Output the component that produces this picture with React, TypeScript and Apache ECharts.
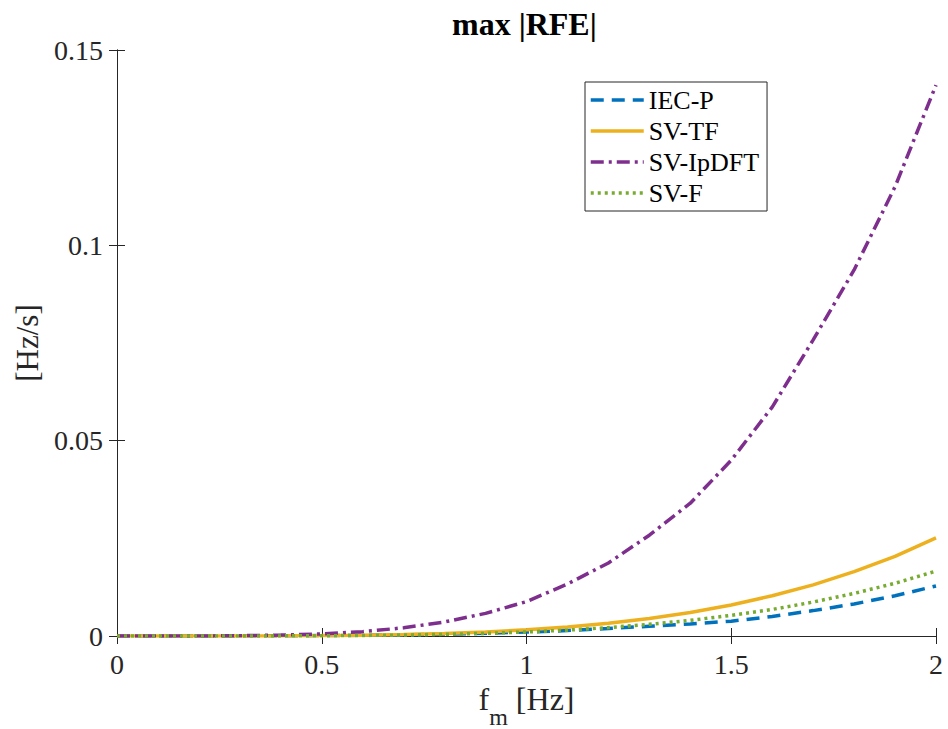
import React, { useEffect, useRef } from "react";
import * as echarts from "echarts";

const fm = [0, 0.1, 0.2, 0.3, 0.4, 0.5, 0.6, 0.7, 0.8, 0.9, 1.0, 1.1, 1.2, 1.3, 1.4, 1.5, 1.6, 1.7, 1.8, 1.9, 2.0];
const iecP = [0, 0, 0.00001, 0.00003, 0.00006, 0.0001, 0.00018, 0.0003, 0.00048, 0.00072, 0.001, 0.0014, 0.0019, 0.0025, 0.0031, 0.0038, 0.005, 0.0065, 0.0082, 0.0103, 0.0128];
const svTF = [0, 0, 0.0000025, 0.000013, 0.00004, 0.0001, 0.0002, 0.00038, 0.00064, 0.00103, 0.00157, 0.0023, 0.00326, 0.00448, 0.00603, 0.00795, 0.0103, 0.0131, 0.0165, 0.0204, 0.0251];
const svIpDFT = [0, 0.000001, 0.00001, 0.00007, 0.00023, 0.00055, 0.0011, 0.0021, 0.0036, 0.0058, 0.0088, 0.0133, 0.0187, 0.0258, 0.034, 0.045, 0.0586, 0.0758, 0.0937, 0.115, 0.141];
const svF = [0, 0, 0.000003, 0.00001, 0.00003, 0.00006, 0.00014, 0.00025, 0.00043, 0.00068, 0.00104, 0.0015, 0.00215, 0.003, 0.004, 0.0053, 0.0068, 0.0087, 0.0109, 0.0135, 0.0166];

const seriesNames = ["IEC-P", "SV-TF", "SV-IpDFT", "SV-F"];
const seriesColors = ["#0072BD", "#EDB120", "#7E2F8E", "#77AC30"];
const xTicks = { min: 0, max: 2, interval: 0.5 };
const yTicks = { min: 0, max: 0.15, interval: 0.05 };

const FONT = "'Liberation Serif', 'Times New Roman', serif";
const AX = "#262626";

export default function App() {
  const ref = useRef<HTMLDivElement>(null);
  useEffect(() => {
    if (!ref.current) return;
    const chart = echarts.init(ref.current, undefined, { renderer: "svg" });
    const values = [iecP, svTF, svIpDFT, svF];
    const dashes: any[] = [[13, 8], "solid", [13, 5, 3, 5], [3, 4]];
    const axisCommon = {
      type: "value" as const,
      axisLine: { show: true, lineStyle: { color: AX, width: 1 } },
      axisTick: { show: true, inside: true, length: 8, lineStyle: { color: AX } },
      splitLine: { show: false },
    };
    chart.setOption({
      animation: false,
      backgroundColor: "#ffffff",
      grid: { left: 117, right: 12, top: 50, bottom: 93, containLabel: false, outerBoundsMode: "none" },
      graphic: [
        {
          type: "text",
          left: 452,
          top: 8,
          style: { text: "max |RFE|", font: `bold 32px ${FONT}`, fill: "#000" },
        },
      ],
      legend: {
        orient: "vertical",
        left: 585,
        top: 82,
        itemWidth: 53,
        itemHeight: 14,
        itemGap: 5,
        padding: [5, 8, 5, 4],
        borderColor: AX,
        borderWidth: 1,
        backgroundColor: "#fff",
        itemStyle: { opacity: 0 },
        lineStyle: { width: 3.5 },
        textStyle: { fontFamily: FONT, fontSize: 26, color: "#000", padding: [0, 0, 0, 0] },
        data: seriesNames,
      },
      xAxis: [
        {
          ...axisCommon,
          ...xTicks,
          position: "bottom",
          axisLabel: { show: true, margin: 14, fontFamily: FONT, fontSize: 28, color: AX },
          name: "{a|f}{b|m}{a| [Hz]}",
          nameLocation: "middle",
          nameGap: 16,
          nameTextStyle: {
            rich: {
              a: { fontFamily: FONT, fontSize: 32, color: AX },
              b: { fontFamily: FONT, fontSize: 24, color: AX, verticalAlign: "bottom", padding: [0, 0, -14, 0] },
            },
          },
        },
        {
          ...axisCommon,
          ...xTicks,
          position: "top",
          axisLabel: { show: false },
        },
      ],
      yAxis: [
        {
          ...axisCommon,
          ...yTicks,
          position: "left",
          axisLabel: { show: true, margin: 14, fontFamily: FONT, fontSize: 28, color: AX },
          name: "[Hz/s]",
          nameLocation: "middle",
          nameGap: 72,
          nameRotate: 90,
          nameTextStyle: { fontFamily: FONT, fontSize: 31, color: AX },
        },
        {
          ...axisCommon,
          ...yTicks,
          position: "right",
          axisLabel: { show: false },
        },
      ],
      series: seriesNames.map((name, i) => ({
        name,
        type: "line",
        xAxisIndex: 0,
        yAxisIndex: 0,
        showSymbol: false,
        symbol: "none",
        color: seriesColors[i],
        lineStyle: { color: seriesColors[i], width: 3.5, type: dashes[i] },
        data: fm.map((x, k) => [x, values[i][k]]),
      })),
    });
    return () => chart.dispose();
  }, []);
  return <div ref={ref} style={{ position: "absolute", left: 0, top: 0, width: 948, height: 729 }} />;
}
